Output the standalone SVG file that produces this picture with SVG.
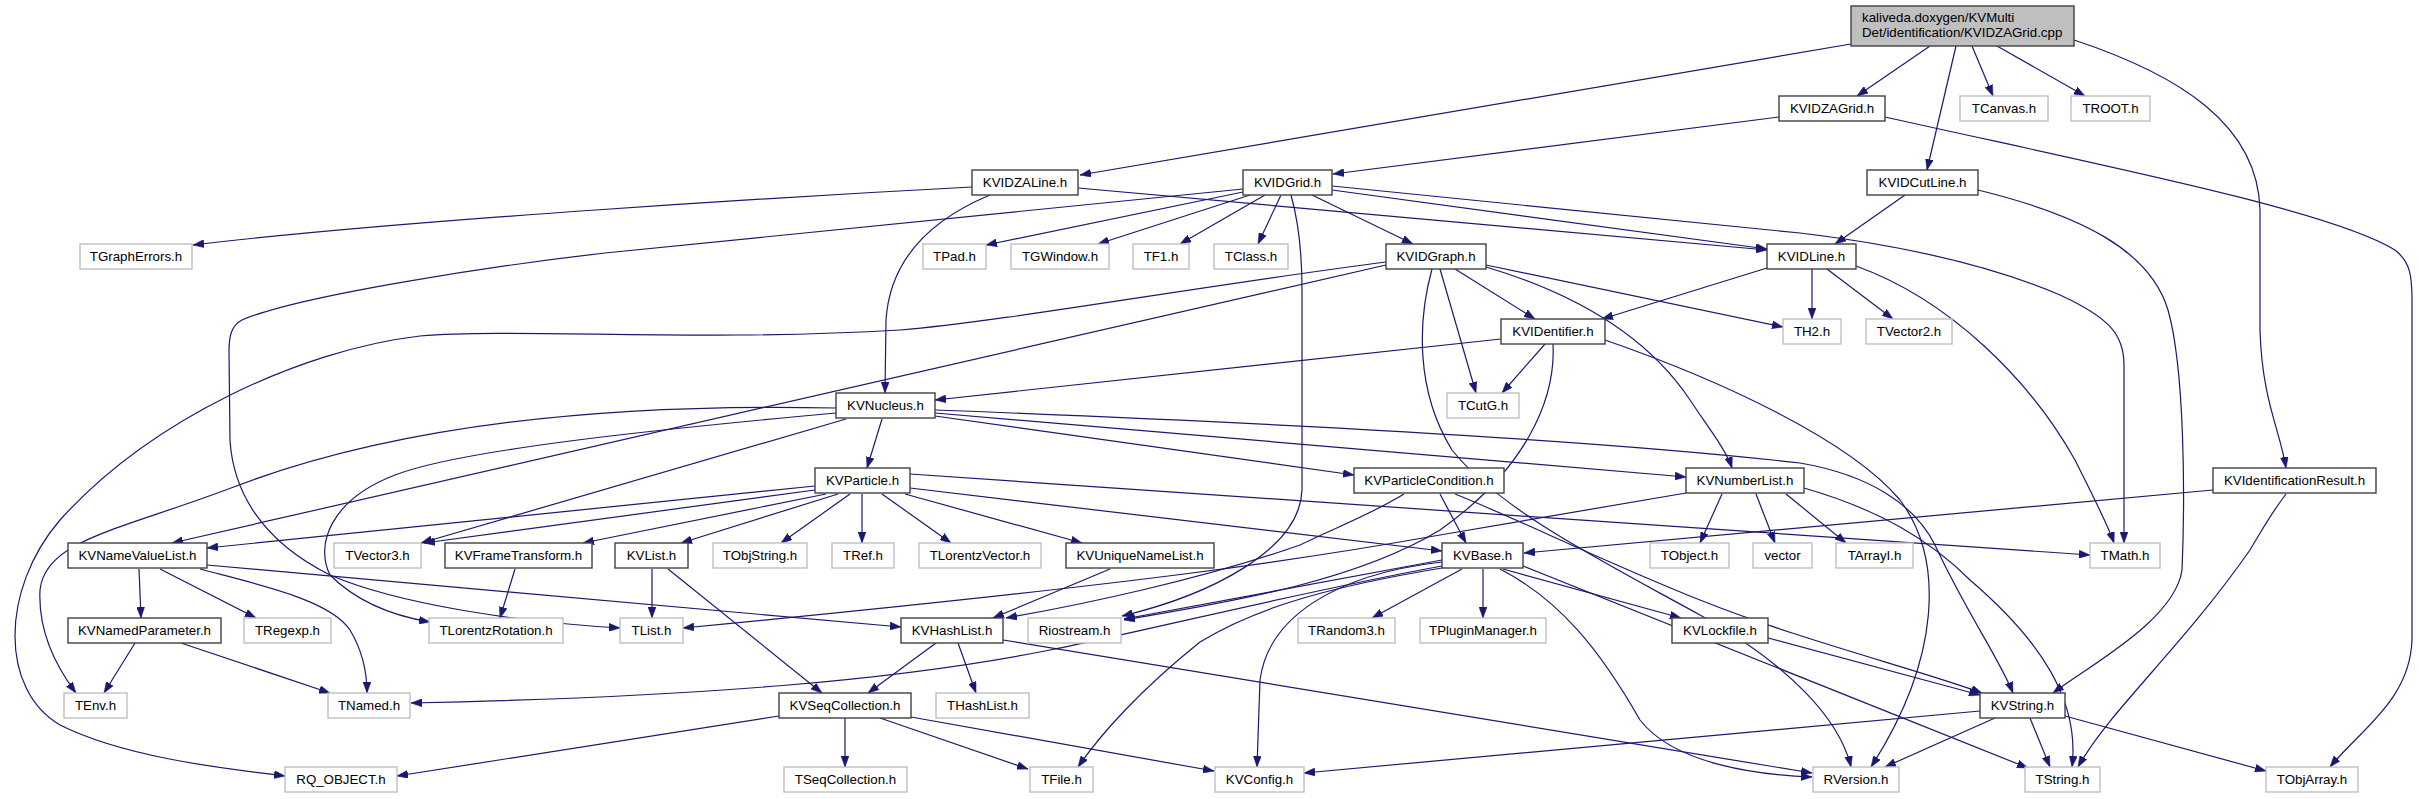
<svg xmlns="http://www.w3.org/2000/svg" width="2419" height="799" viewBox="0 0 2419 799">
<style>
.k rect{fill:#fff;stroke:#404040;stroke-width:1.4}
.x rect{fill:#fff;stroke:#bfbfbf;stroke-width:1.4}
.r rect{fill:#bfbfbf;stroke:#404040;stroke-width:1.4}
text{font-family:"Liberation Sans",Arial,sans-serif;font-size:13.3px;fill:#000;text-anchor:middle}
.r text{text-anchor:start}
#edges path{fill:none;stroke:#191970;stroke-width:1.2;marker-end:url(#a)}
</style>
<defs>
<marker id="a" markerUnits="userSpaceOnUse" markerWidth="11" markerHeight="8" refX="11" refY="4" orient="auto"><path d="M0,0 L11,4 L0,8 z" fill="#191970" stroke="#191970" stroke-width="0.5"/></marker>
</defs>
<rect width="2419" height="799" fill="#fff"/>
<g id="edges">
<path d="M1851,44 L1080,175"/>
<path d="M1930,46 L1857,96"/>
<path d="M1956,46 L1927,170"/>
<path d="M1972,46 L1993,96"/>
<path d="M1997,46 L2085,96"/>
<path d="M2074,40 C2180,75 2258,125 2260,210 L2260,330 C2262,400 2280,430 2286,468"/>
<path d="M1779,117 L1333,174"/>
<path d="M1885,117 C2100,165 2330,210 2395,250 C2410,262 2412,275 2412,300 L2412,640 C2410,700 2360,730 2330,767"/>
<path d="M972,187 C800,196 400,220 193,245"/>
<path d="M1078,188 L1767,250"/>
<path d="M990,195 C930,220 890,260 886,320 L885,393"/>
<path d="M1243,189 L605,253 C500,265 300,295 242,320 C231,326 229,336 229,352 L230,440 C233,490 260,540 330,575 C400,605 520,622 620,628"/>
<path d="M1243,192 L986,245"/>
<path d="M1250,195 L1098,244"/>
<path d="M1265,195 L1180,244"/>
<path d="M1281,195 L1258,244"/>
<path d="M1312,195 L1413,244"/>
<path d="M1332,190 L1767,249"/>
<path d="M1332,186 L1800,233 C1900,245 1990,265 2060,295 C2110,318 2124,335 2124,365 L2124,543"/>
<path d="M1291,195 C1298,220 1302,250 1302,290 L1302,490 C1300,550 1210,595 1122,616"/>
<path d="M1905,195 L1835,244"/>
<path d="M1978,190 C2080,215 2150,250 2168,310 C2185,370 2185,500 2182,570 C2175,620 2090,665 2053,693"/>
<path d="M1455,269 L1535,319"/>
<path d="M1440,269 L1476,393"/>
<path d="M1486,265 L1783,327"/>
<path d="M1486,267 C1580,295 1650,340 1690,400 C1710,430 1726,450 1732,468"/>
<path d="M1432,269 C1418,320 1415,390 1452,450 C1500,510 1600,560 1700,615 C1790,665 1840,720 1851,767"/>
<path d="M1386,265 L172,543"/>
<path d="M1386,262 C1200,286 1000,322 900,330 C700,342 520,328 420,336 C300,350 150,420 60,520 C0,590 0,690 60,725 C130,760 240,770 285,776"/>
<path d="M1767,268 L1602,319"/>
<path d="M1812,269 L1812,319"/>
<path d="M1827,269 L1893,319"/>
<path d="M1856,266 C1950,300 2030,380 2075,460 C2095,500 2108,525 2114,543"/>
<path d="M1501,339 L935,400"/>
<path d="M1545,344 L1502,393"/>
<path d="M1553,344 C1556,400 1525,470 1440,530 C1350,585 1210,605 1124,620"/>
<path d="M1605,340 C1720,380 1850,440 1900,500 C1945,560 1940,660 1871,767"/>
<path d="M882,419 L867,468"/>
<path d="M935,416 L1354,475"/>
<path d="M935,413 L1686,477"/>
<path d="M935,410 C1250,422 1600,440 1800,463 C1870,475 1915,505 1935,545 C1965,610 2000,660 2013,693"/>
<path d="M836,408 C650,404 420,415 231,488 C120,530 45,540 40,590 C38,630 55,665 76,693"/>
<path d="M836,413 C650,430 460,450 395,475 C330,500 315,545 330,575 C360,605 400,617 430,622"/>
<path d="M846,419 L421,543"/>
<path d="M815,486 L207,548"/>
<path d="M815,490 L424,543"/>
<path d="M826,494 L583,543"/>
<path d="M838,494 L681,543"/>
<path d="M850,494 L781,543"/>
<path d="M862,494 L862,543"/>
<path d="M882,494 L951,543"/>
<path d="M905,494 L1082,543"/>
<path d="M910,488 L1442,551"/>
<path d="M910,474 L2090,555"/>
<path d="M1440,494 L1466,543"/>
<path d="M1404,494 C1370,515 1330,530 1300,545 C1200,580 1080,605 1006,618"/>
<path d="M1455,494 C1520,520 1600,560 1700,600 C1800,640 1920,670 1982,693"/>
<path d="M1722,494 L1700,543"/>
<path d="M1756,494 L1775,543"/>
<path d="M1786,494 L1846,543"/>
<path d="M1804,488 C1880,510 1930,540 1970,580 C2040,640 2080,700 2072,767"/>
<path d="M1686,493 L1440,535 C1300,560 1150,583 683,628"/>
<path d="M2213,490 L1524,553"/>
<path d="M2286,494 C2270,515 2262,530 2250,550 C2180,650 2110,710 2078,767"/>
<path d="M139,569 L141,618"/>
<path d="M160,569 L256,618"/>
<path d="M200,569 C260,585 330,600 350,630 C362,650 367,670 367,693"/>
<path d="M207,565 L901,627"/>
<path d="M135,643 L104,693"/>
<path d="M181,643 L330,693"/>
<path d="M515,569 L500,618"/>
<path d="M652,569 L652,618"/>
<path d="M668,569 L822,693"/>
<path d="M1110,569 L993,618"/>
<path d="M1462,569 L1372,618"/>
<path d="M1483,569 L1483,618"/>
<path d="M1503,569 L1681,618"/>
<path d="M1442,566 C1300,592 1150,630 1050,650 C900,680 700,697 411,703"/>
<path d="M1442,562 C1330,575 1268,620 1260,680 L1257,767"/>
<path d="M1500,569 C1560,600 1600,650 1640,720 C1675,765 1760,775 1812,777"/>
<path d="M1523,566 L2028,768"/>
<path d="M1442,560 L1124,619"/>
<path d="M1442,568 C1340,585 1260,605 1200,642 C1140,690 1100,735 1078,767"/>
<path d="M936,643 L868,693"/>
<path d="M958,643 L976,693"/>
<path d="M1003,640 L1812,773"/>
<path d="M779,716 L397,776"/>
<path d="M845,718 L845,767"/>
<path d="M880,718 L1028,769"/>
<path d="M911,717 L1214,771"/>
<path d="M1980,711 L1304,773"/>
<path d="M1995,718 L1885,767"/>
<path d="M2030,718 L2050,767"/>
<path d="M2065,716 L2266,771"/>
<path d="M1768,638 L1980,695"/>
</g>
<g id="root" class="r"><rect x="1851" y="6" width="223" height="40"/><text x="1862" y="22">kaliveda.doxygen/KVMulti</text><text x="1862" y="37">Det/identification/KVIDZAGrid.cpp</text></g>
<g id="KVIDZAGrid" class="k"><rect x="1779" y="96" width="106" height="25"/><text x="1832" y="113">KVIDZAGrid.h</text></g>
<g id="TCanvas" class="x"><rect x="1960" y="96" width="88" height="25"/><text x="2004" y="113">TCanvas.h</text></g>
<g id="TROOT" class="x"><rect x="2071" y="96" width="79" height="25"/><text x="2110.5" y="113">TROOT.h</text></g>
<g id="KVIDZALine" class="k"><rect x="972" y="170" width="106" height="25"/><text x="1025" y="187">KVIDZALine.h</text></g>
<g id="KVIDGrid" class="k"><rect x="1243" y="170" width="89" height="25"/><text x="1287.5" y="187">KVIDGrid.h</text></g>
<g id="KVIDCutLine" class="k"><rect x="1867" y="170" width="111" height="25"/><text x="1922.5" y="187">KVIDCutLine.h</text></g>
<g id="TGraphErrors" class="x"><rect x="80" y="244" width="112" height="25"/><text x="136" y="261">TGraphErrors.h</text></g>
<g id="TPad" class="x"><rect x="923" y="244" width="63" height="25"/><text x="954.5" y="261">TPad.h</text></g>
<g id="TGWindow" class="x"><rect x="1011" y="244" width="98" height="25"/><text x="1060" y="261">TGWindow.h</text></g>
<g id="TF1" class="x"><rect x="1133" y="244" width="56" height="25"/><text x="1161" y="261">TF1.h</text></g>
<g id="TClass" class="x"><rect x="1214" y="244" width="74" height="25"/><text x="1251" y="261">TClass.h</text></g>
<g id="KVIDGraph" class="k"><rect x="1386" y="244" width="100" height="25"/><text x="1436" y="261">KVIDGraph.h</text></g>
<g id="KVIDLine" class="k"><rect x="1767" y="244" width="89" height="25"/><text x="1811.5" y="261">KVIDLine.h</text></g>
<g id="KVIDentifier" class="k"><rect x="1501" y="319" width="104" height="25"/><text x="1553" y="336">KVIDentifier.h</text></g>
<g id="TH2" class="x"><rect x="1783" y="319" width="58" height="25"/><text x="1812" y="336">TH2.h</text></g>
<g id="TVector2" class="x"><rect x="1866" y="319" width="86" height="25"/><text x="1909" y="336">TVector2.h</text></g>
<g id="KVNucleus" class="k"><rect x="836" y="393" width="99" height="25"/><text x="885.5" y="410">KVNucleus.h</text></g>
<g id="TCutG" class="x"><rect x="1447" y="393" width="72" height="25"/><text x="1483" y="410">TCutG.h</text></g>
<g id="KVParticle" class="k"><rect x="815" y="468" width="95" height="25"/><text x="862.5" y="485">KVParticle.h</text></g>
<g id="KVParticleCondition" class="k"><rect x="1354" y="468" width="150" height="25"/><text x="1429" y="485">KVParticleCondition.h</text></g>
<g id="KVNumberList" class="k"><rect x="1686" y="468" width="118" height="25"/><text x="1745" y="485">KVNumberList.h</text></g>
<g id="KVIdentificationResult" class="k"><rect x="2213" y="468" width="163" height="25"/><text x="2294.5" y="485">KVIdentificationResult.h</text></g>
<g id="KVNameValueList" class="k"><rect x="68" y="543" width="139" height="25"/><text x="137.5" y="560">KVNameValueList.h</text></g>
<g id="TVector3" class="x"><rect x="334" y="543" width="87" height="25"/><text x="377.5" y="560">TVector3.h</text></g>
<g id="KVFrameTransform" class="k"><rect x="445" y="543" width="147" height="25"/><text x="518.5" y="560">KVFrameTransform.h</text></g>
<g id="KVList" class="k"><rect x="615" y="543" width="73" height="25"/><text x="651.5" y="560">KVList.h</text></g>
<g id="TObjString" class="x"><rect x="713" y="543" width="94" height="25"/><text x="760" y="560">TObjString.h</text></g>
<g id="TRef" class="x"><rect x="832" y="543" width="62" height="25"/><text x="863" y="560">TRef.h</text></g>
<g id="TLorentzVector" class="x"><rect x="919" y="543" width="122" height="25"/><text x="980" y="560">TLorentzVector.h</text></g>
<g id="KVUniqueNameList" class="k"><rect x="1066" y="543" width="148" height="25"/><text x="1140" y="560">KVUniqueNameList.h</text></g>
<g id="KVBase" class="k"><rect x="1442" y="543" width="81" height="25"/><text x="1482.5" y="560">KVBase.h</text></g>
<g id="TObject" class="x"><rect x="1650" y="543" width="79" height="25"/><text x="1689.5" y="560">TObject.h</text></g>
<g id="vector" class="x"><rect x="1753" y="543" width="59" height="25"/><text x="1782.5" y="560">vector</text></g>
<g id="TArrayI" class="x"><rect x="1836" y="543" width="77" height="25"/><text x="1874.5" y="560">TArrayI.h</text></g>
<g id="TMath" class="x"><rect x="2090" y="543" width="70" height="25"/><text x="2125" y="560">TMath.h</text></g>
<g id="KVNamedParameter" class="k"><rect x="68" y="618" width="153" height="25"/><text x="144.5" y="635">KVNamedParameter.h</text></g>
<g id="TRegexp" class="x"><rect x="244" y="618" width="87" height="25"/><text x="287.5" y="635">TRegexp.h</text></g>
<g id="TLorentzRotation" class="x"><rect x="429" y="618" width="134" height="25"/><text x="496" y="635">TLorentzRotation.h</text></g>
<g id="TList" class="x"><rect x="620" y="618" width="63" height="25"/><text x="651.5" y="635">TList.h</text></g>
<g id="KVHashList" class="k"><rect x="901" y="618" width="102" height="25"/><text x="952" y="635">KVHashList.h</text></g>
<g id="Riostream" class="x"><rect x="1028" y="618" width="93" height="25"/><text x="1074.5" y="635">Riostream.h</text></g>
<g id="TRandom3" class="x"><rect x="1298" y="618" width="97" height="25"/><text x="1346.5" y="635">TRandom3.h</text></g>
<g id="TPluginManager" class="x"><rect x="1420" y="618" width="126" height="25"/><text x="1483" y="635">TPluginManager.h</text></g>
<g id="KVLockfile" class="k"><rect x="1672" y="618" width="96" height="25"/><text x="1720" y="635">KVLockfile.h</text></g>
<g id="TEnv" class="x"><rect x="64" y="693" width="63" height="25"/><text x="95.5" y="710">TEnv.h</text></g>
<g id="TNamed" class="x"><rect x="328" y="693" width="82" height="25"/><text x="369" y="710">TNamed.h</text></g>
<g id="KVSeqCollection" class="k"><rect x="779" y="693" width="132" height="25"/><text x="845" y="710">KVSeqCollection.h</text></g>
<g id="THashList" class="x"><rect x="936" y="693" width="93" height="25"/><text x="982.5" y="710">THashList.h</text></g>
<g id="KVString" class="k"><rect x="1980" y="693" width="85" height="25"/><text x="2022.5" y="710">KVString.h</text></g>
<g id="RQ_OBJECT" class="x"><rect x="285" y="767" width="112" height="25"/><text x="341" y="784">RQ_OBJECT.h</text></g>
<g id="TSeqCollection" class="x"><rect x="784" y="767" width="123" height="25"/><text x="845.5" y="784">TSeqCollection.h</text></g>
<g id="TFile" class="x"><rect x="1030" y="767" width="63" height="25"/><text x="1061.5" y="784">TFile.h</text></g>
<g id="KVConfig" class="x"><rect x="1215" y="767" width="89" height="25"/><text x="1259.5" y="784">KVConfig.h</text></g>
<g id="RVersion" class="x"><rect x="1813" y="767" width="86" height="25"/><text x="1856" y="784">RVersion.h</text></g>
<g id="TString" class="x"><rect x="2025" y="767" width="75" height="25"/><text x="2062.5" y="784">TString.h</text></g>
<g id="TObjArray" class="x"><rect x="2266" y="767" width="92" height="25"/><text x="2312" y="784">TObjArray.h</text></g>
</svg>
